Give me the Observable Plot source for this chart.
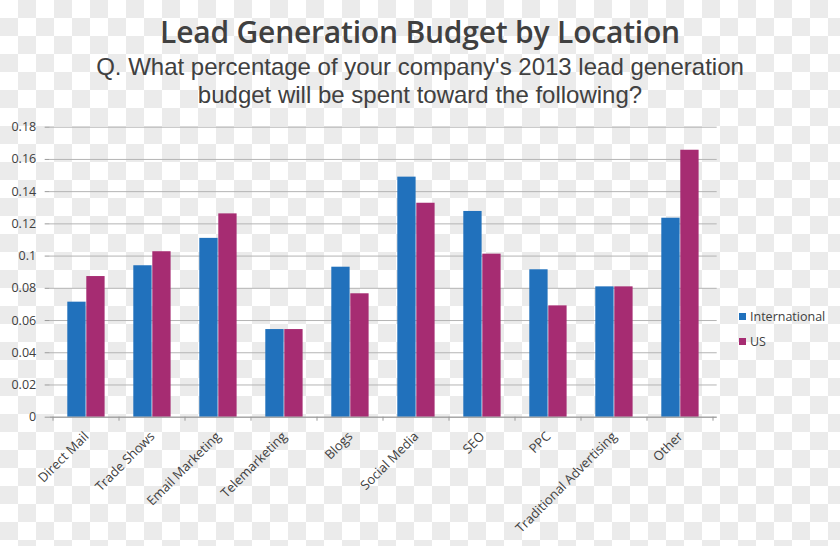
<!DOCTYPE html>
<html>
<head>
<meta charset="utf-8">
<script src="https://cdn.jsdelivr.net/npm/d3@7"></script>
<script src="https://cdn.jsdelivr.net/npm/@observablehq/plot@0.6"></script>
<style>
  html, body { margin: 0; padding: 0; }
  body {
    width: 840px; height: 546px; overflow: hidden; position: relative;
    background: repeating-conic-gradient(#ebebeb 0% 25%, #ffffff 0% 50%) 0 0 / 36px 36px;
    font-family: "Open Sans", Lato, sans-serif; color: #3f3f3f;
  }
  #head { height: 110px; position: relative; text-align: center; }
  #title { position: absolute; left: 0; right: 0; top: 14.5px; font-size: 30px; line-height: 34px; font-weight: 600; color: #404040; letter-spacing: -0.2px; }
  .sub { position: absolute; left: 0; right: 0; font-family: "Liberation Sans", Arial, sans-serif; font-size: 24px; line-height: 28px; color: #404040; }
  #sub1 { top: 52.7px; }
  #sub2 { top: 80.7px; }
  #legend { position: absolute; left: 739px; top: 304px; font-size: 12.5px; color: #404040; }
  #legend div { display: flex; align-items: center; height: 25px; }
  #legend span.sw { display: inline-block; width: 7px; height: 7px; margin-right: 4px; }
</style>
</head>
<body>
<div id="head">
  <div id="title">Lead Generation Budget by Location</div>
  <div class="sub" id="sub1">Q. What percentage of your company's 2013 lead generation</div>
  <div class="sub" id="sub2">budget will be spent toward the following?</div>
</div>
<div id="chart"></div>
<div id="legend"></div>
<script>
const categories = ["Direct Mail", "Trade Shows", "Email Marketing", "Telemarketing", "Blogs", "Social Media", "SEO", "PPC", "Traditional Advertising", "Other"];
const international = [0.0714, 0.094, 0.111, 0.0544, 0.0931, 0.149, 0.1277, 0.0915, 0.0809, 0.1235];
const us = [0.0873, 0.1027, 0.1262, 0.0544, 0.0766, 0.1328, 0.1012, 0.0691, 0.0809, 0.1657];
const series = ["International", "US"];
const colors = ["#2171bc", "#a62c72"];
const yTicks = [0, 0.02, 0.04, 0.06, 0.08, 0.1, 0.12, 0.14, 0.16, 0.18];

const rowsInt = categories.map((c, i) => ({category: c, series: series[0], value: international[i]}));
const rowsUS = categories.map((c, i) => ({category: c, series: series[1], value: us[i]}));

const plot = Plot.plot({
  width: 840,
  height: 436,
  marginTop: 16.7,
  marginBottom: 129.3,
  marginLeft: 49.7,
  marginRight: 123.3,
  style: {background: "transparent", fontFamily: "'Open Sans', Lato, sans-serif", color: "#404040"},
  x: {domain: categories, padding: 0, label: null},
  y: {domain: [0, 0.18], label: null},
  color: {domain: series, range: colors},
  marks: [
    Plot.gridY(yTicks, {stroke: "#b4b4b4", strokeOpacity: 1, strokeWidth: 1}),
    Plot.barY(rowsInt, {x: "category", y: "value", fill: "series", insetLeft: 14.3, insetRight: 33.4}),
    Plot.barY(rowsUS, {x: "category", y: "value", fill: "series", insetLeft: 33.3, insetRight: 14.4}),
    Plot.axisY(yTicks, {tickSize: 5, tickPadding: 9, stroke: "#9a9a9a", fontSize: 12.5, tickFormat: d => String(d), label: null}),
    Plot.ruleX([0], {stroke: "#9a9a9a", frameAnchor: "left"}),
    Plot.ruleY([0], {stroke: "#9a9a9a"}),
    Plot.axisX({tickSize: 0, tickPadding: 17, dx: 0, tickRotate: -45, fontSize: 13, label: null})
  ]
});
document.getElementById("chart").appendChild(plot);

// boundary tick marks on the category axis, via the plot's own x scale
const xs = plot.scale("x");
const bw = xs.bandwidth;
const svg = d3.select(plot);
const bounds = categories.map(c => xs.apply(c)).concat([xs.apply(categories[categories.length - 1]) + bw]);
const y0 = plot.scale("y").apply(0);
svg.append("g").selectAll("line").data(bounds).join("line")
  .attr("x1", d => d).attr("x2", d => d).attr("y1", y0).attr("y2", y0 + 4)
  .attr("stroke", "#9a9a9a");

const lg = d3.select("#legend");
series.forEach((s, i) => {
  const row = lg.append("div");
  row.append("span").attr("class", "sw").style("background", colors[i]);
  row.append("span").text(s);
});
</script>
</body>
</html>
